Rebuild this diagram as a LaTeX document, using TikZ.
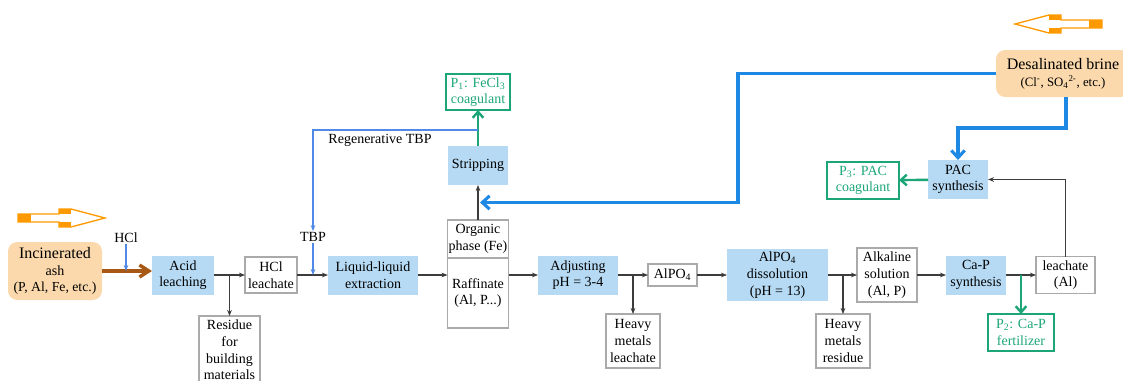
\documentclass[tikz,border=0pt]{standalone}
\usepackage{fontspec}
\setmainfont{Liberation Serif}
\usetikzlibrary{arrows.meta,calc}
\definecolor{procblue}{RGB}{182,218,244}
\definecolor{feedorange}{RGB}{251,217,172}
\definecolor{arrorange}{RGB}{255,153,0}
\definecolor{boxgray}{RGB}{170,170,170}
\definecolor{flowgray}{RGB}{60,60,60}
\definecolor{prodgreen}{RGB}{28,166,120}
\definecolor{reagentblue}{RGB}{80,138,230}
\definecolor{brineblue}{RGB}{30,136,229}
\definecolor{ashbrown}{RGB}{166,88,20}

\begin{document}
\begin{tikzpicture}[x=0.75pt,y=-0.75pt,inner sep=1pt,outer sep=0pt,
font=\fontsize{10.5}{12.5}\selectfont,
procbox/.style={fill=procblue,align=center},
wastebox/.style={draw=boxgray,line width=0.8pt,fill=white,align=center},
prodbox/.style={draw=prodgreen,line width=0.9pt,text=prodgreen,align=center},
feedbox/.style={fill=feedorange,rounded corners=7pt,align=center},
flow/.style={draw=flowgray,line width=0.8pt,-{Stealth[length=4.5pt,width=3.5pt]}},
reagent/.style={draw=reagentblue,line width=1.1pt,-{Stealth[length=4.5pt,width=3.5pt]}},
product/.style={draw=prodgreen,line width=1.8pt,-{Straight Barb[length=4.5pt,width=8pt]}},
brineflow/.style={draw=brineblue,line width=2.3pt,-{Straight Barb[length=5.5pt,width=10pt]}},
ashflow/.style={draw=ashbrown,line width=2.6pt,-{Straight Barb[length=7pt,width=9pt]}}]

\useasboundingbox (0,0) rectangle (1123,380);

\foreach \s/\dx/\dy in {1/0/0,-1/1120/-194} {
\begin{scope}[shift={(\dx,\dy)},xscale=\s]
\fill[arrorange] (18,214) rectangle (31,222);
\fill[arrorange] (59,209) rectangle (71,214);
\fill[arrorange] (59,222) rectangle (71,227);
\draw[arrorange,line width=1pt,line join=miter] (18,214) -- (59,214) -- (59,209) -- (71,209) -- (105,218) -- (71,227) -- (59,227) -- (59,222) -- (18,222) -- cycle;
\end{scope}
}

\draw (55,271) node[feedbox,minimum width=70.5pt,minimum height=43.5pt] (ash) {\fontsize{12}{14}\selectfont Incinerated\\ash\\\fontsize{10.3}{12}\selectfont (P, Al, Fe, etc.)};
\draw (183,275) node[procbox,minimum width=46.5pt,minimum height=29.25pt] (acid) {Acid\\leaching};
\draw (271,275) node[wastebox,minimum width=39pt,minimum height=27pt] (hclleach) {HCl\\leachate};
\draw (229.5,316) node[wastebox,anchor=north,minimum width=45.75pt,inner ysep=3pt] (residue) {Residue\\for\\building\\materials};
\draw (373,275) node[procbox,minimum width=67.5pt,minimum height=29.25pt] (lle) {Liquid-liquid\\extraction};
\draw (478,239) node[wastebox,minimum width=45.75pt,minimum height=28.5pt] (org) {Organic\\phase (Fe)};
\draw (478,293) node[wastebox,minimum width=45.75pt,minimum height=52.5pt] (raff) {Raffinate\\(Al, P...)};
\draw (478,165.5) node[procbox,minimum width=45pt,minimum height=29.25pt] (strip) {Stripping};
\draw (478,92) node[prodbox,minimum width=48pt,minimum height=27pt] (p1) {P\textsubscript{1}: FeCl\textsubscript{3}\\coagulant};
\draw (578,275) node[procbox,minimum width=60pt,minimum height=29.25pt] (adjust) {Adjusting\\pH = 3-4};
\draw (672.5,275) node[wastebox,minimum width=36.75pt,minimum height=16.5pt] (alpo) {AlPO\textsubscript{4}};
\draw (633,341) node[wastebox,minimum width=40.5pt,minimum height=40.5pt] (hml) {Heavy\\metals\\leachate};
\draw (777.5,275) node[procbox,minimum width=75.75pt,minimum height=39pt] (diss) {AlPO\textsubscript{4}\\dissolution\\(pH = 13)};
\draw (843,341) node[wastebox,minimum width=40.5pt,minimum height=40.5pt] (hmr) {Heavy\\metals\\residue};
\draw (887,275) node[wastebox,minimum width=45pt,minimum height=40.5pt] (alk) {Alkaline\\solution\\(Al, P)};
\draw (976,275) node[procbox,minimum width=45pt,minimum height=29.25pt] (cap) {Ca-P\\synthesis};
\draw (1065.5,275) node[wastebox,minimum width=44.25pt,minimum height=27.75pt] (leach) {leachate\\(Al)};
\draw (1021,332.5) node[prodbox,minimum width=49.5pt,minimum height=27.75pt] (p2) {P\textsubscript{2}: Ca-P\\fertilizer};
\draw (958,179.5) node[procbox,minimum width=45pt,minimum height=29.25pt] (pac) {PAC\\synthesis};
\draw (863,180.5) node[prodbox,minimum width=54pt,minimum height=27.75pt] (p3) {P\textsubscript{3}: PAC\\coagulant};
\draw (1063,73.5) node[feedbox,minimum width=100.5pt,minimum height=35.25pt] (brine) {\fontsize{12}{14}\selectfont Desalinated brine\\\fontsize{9.6}{11}\selectfont (Cl\textsuperscript{-}, SO\textsubscript{4}\textsuperscript{2-}, etc.)};

\draw (126,238) node (hcllabel) {HCl};
\draw (313,237) node (tbplabel) {TBP};
\draw (380,140) node (regenlabel) {Regenerative TBP};

\draw[ashflow] (ash.east) -- (ash.east -| acid.west);
\draw[reagent] (hcllabel) -- (hcllabel |- ash.east);
\draw[flow] (acid) -- (hclleach);
\draw[flow] (residue.north |- acid.east) -- (residue);
\draw[flow] (hclleach) -- (lle);
\draw[reagent] (tbplabel) -- (tbplabel |- lle.west);
\draw[flow] (lle) -- (lle.east -| raff.west);
\draw[flow] (org) -- (strip);
\draw[product] (strip) -- (p1);
\coordinate (regen) at ($(strip.north)!.44!(p1.south)$);
\draw[reagent] (regen) -| (tbplabel);
\draw[flow] (raff.east |- lle.east) -- (adjust);
\draw[flow] (adjust) -- (alpo);
\draw[flow] (hml.north |- adjust.east) -- (hml);
\draw[flow] (alpo) -- (diss);
\draw[flow] (diss) -- (alk);
\draw[flow] (hmr.north |- diss.east) -- (hmr);
\draw[flow] (alk) -- (cap);
\draw[flow] (cap) -- (leach);
\draw[product] (p2.north |- cap.east) -- (p2);
\draw[flow] (leach) |- (pac);
\draw[product] (pac) -- (p3);
\coordinate (stripin) at ($(org.north)!.5!(strip.south)+(2,0)$);
\draw[brineflow] (brine.west) -| ($(stripin)+(258,0)$) -- (stripin);
\draw[brineflow] ([xshift=2.25pt]brine.south) -- ++(0,31) -| (pac);
\end{tikzpicture}
\end{document}
